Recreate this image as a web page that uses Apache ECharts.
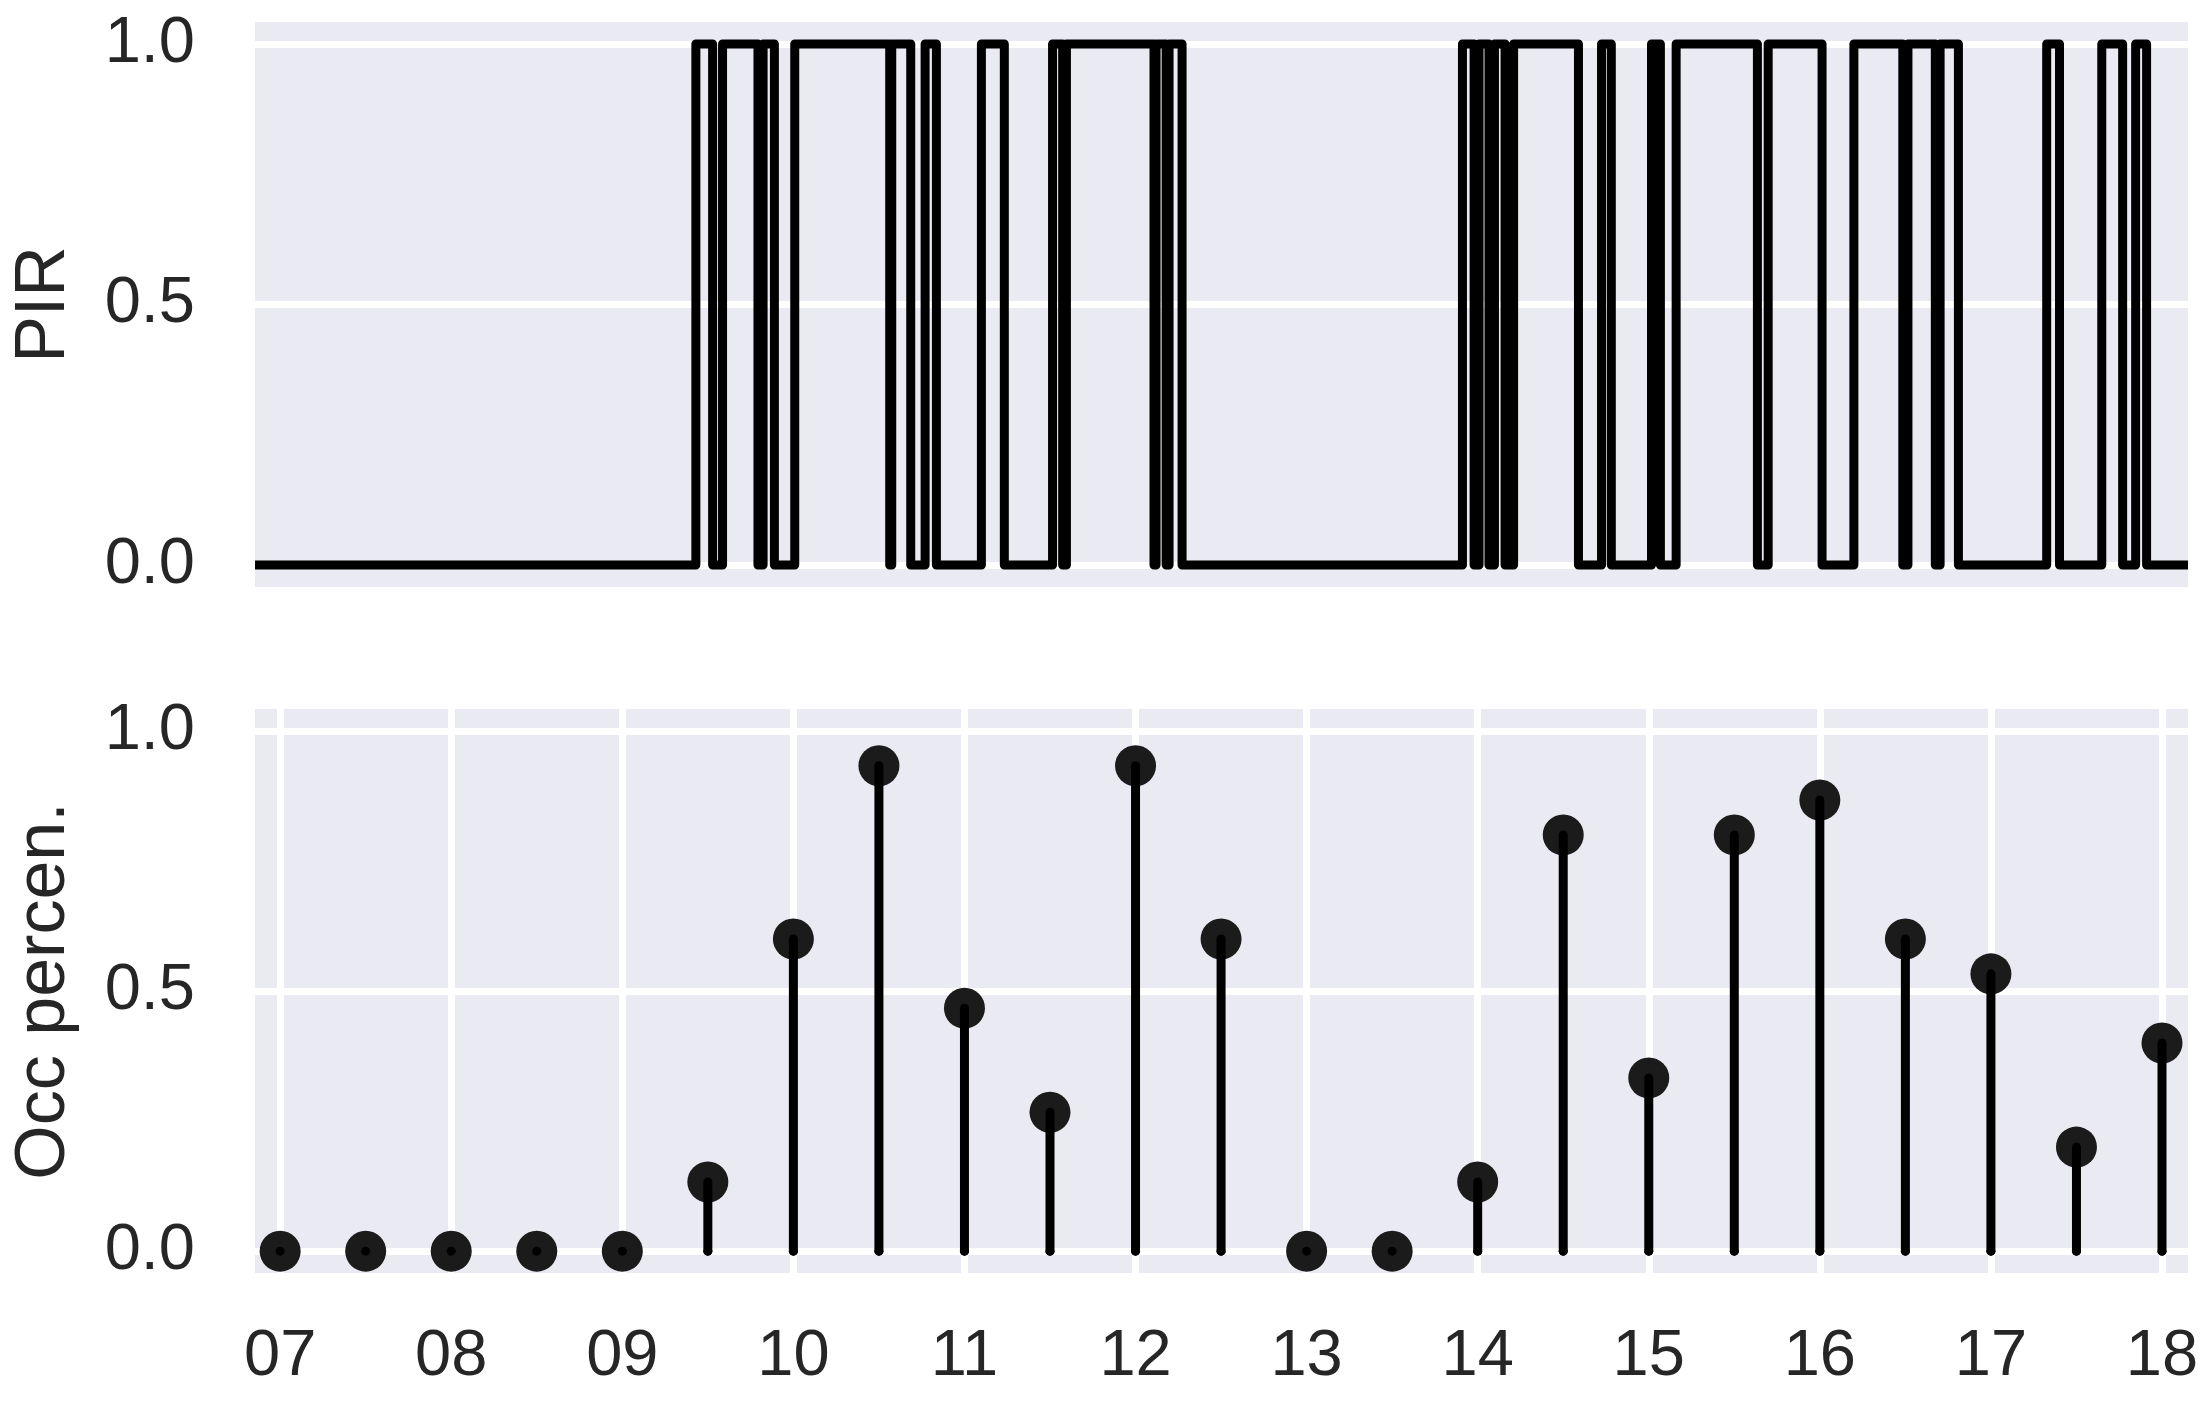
<!DOCTYPE html>
<html><head><meta charset="utf-8">
<script src="https://cdn.jsdelivr.net/npm/echarts@6/dist/echarts.min.js"></script>
<style>html,body{margin:0;padding:0;background:#fff}#c{width:2205px;height:1402px}</style>
</head><body><div id="c"></div>
<script>
// x extent in hours of day
const xMin = 6.853, xMax = 18.152;

// PIR step signal: time (hours) at which the value changes, and the new value
const pirTimes = [6.853, 9.430, 9.528, 9.586, 9.793, 9.823, 9.889, 10.008, 10.563, 10.575,
  10.686, 10.770, 10.836, 11.099, 11.233, 11.515, 11.574, 11.596, 12.108, 12.120,
  12.179, 12.196, 12.272, 13.911, 13.979, 14.008, 14.066, 14.098, 14.160, 14.210,
  14.589, 14.724, 14.781, 15.016, 15.068, 15.160, 15.635, 15.698, 16.013, 16.199,
  16.485, 16.515, 16.675, 16.703, 16.810, 17.326, 17.401, 17.648, 17.770, 17.846,
  17.910, 18.152];
const pirValues = [0, 1, 0, 1, 0, 1, 0, 1, 0, 1,
  0, 1, 0, 1, 0, 1, 0, 1, 0, 1,
  0, 1, 0, 1, 0, 1, 0, 1, 0, 1,
  0, 1, 0, 1, 0, 1, 0, 1, 0, 1,
  0, 1, 0, 1, 0, 1, 0, 1, 0, 1,
  0, 0];

// Occupancy percentage, half-hourly
const occTimes = [7, 7.5, 8, 8.5, 9, 9.5, 10, 10.5, 11, 11.5, 12, 12.5,
  13, 13.5, 14, 14.5, 15, 15.5, 16, 16.5, 17, 17.5, 18];
const occValues = [0, 0, 0, 0, 0, 0.133, 0.6, 0.933, 0.467, 0.267, 0.933, 0.6,
  0, 0, 0.133, 0.8, 0.333, 0.8, 0.867, 0.6, 0.533, 0.2, 0.4];

const xTickHours = [7, 8, 9, 10, 11, 12, 13, 14, 15, 16, 17, 18];
const xTickLabels = ['07', '08', '09', '10', '11', '12', '13', '14', '15', '16', '17', '18'];
const yTickValues = [0, 0.5, 1];
const yTickLabels = ['0.0', '0.5', '1.0'];

const yMin = -0.042, yMax = 1.042;
const FONT = "'Liberation Sans', Arial, 'DejaVu Sans', sans-serif";
const TXT = '#262626';
const BG = '#EAEAF2';

function xFmt(v) {
  for (let i = 0; i < xTickHours.length; i++) if (Math.abs(v - xTickHours[i]) < 1e-6) return xTickLabels[i];
  return '';
}
function yFmt(v) {
  for (let i = 0; i < yTickValues.length; i++) if (Math.abs(v - yTickValues[i]) < 1e-6) return yTickLabels[i];
  return '';
}

const chart = echarts.init(document.getElementById('c'), null, {renderer: 'canvas'});

const yAxisBase = (gi, name) => ({
  type: 'value', gridIndex: gi, min: yMin, max: yMax, splitNumber: 2,
  name: name, nameLocation: 'middle', nameGap: 175, nameRotate: 90,
  nameTextStyle: {fontFamily: FONT, fontSize: 70, color: TXT},
  axisLine: {show: false}, axisTick: {show: false},
  axisLabel: {fontFamily: FONT, fontSize: 65, color: TXT, margin: 60, formatter: yFmt,
    showMinLabel: false, showMaxLabel: false},
  splitLine: {show: true, showMinLine: false, showMaxLine: false,
    lineStyle: {color: '#ffffff', width: 7}}
});

const option = {
  animation: false,
  backgroundColor: '#ffffff',
  grid: [
    {left: 255, top: 22, width: 1933, height: 565, show: true, backgroundColor: BG, borderWidth: 0},
    {left: 255, top: 709, width: 1933, height: 564, show: true, backgroundColor: BG, borderWidth: 0}
  ],
  xAxis: [
    {type: 'value', gridIndex: 0, min: xMin, max: xMax, splitNumber: 11,
      axisLine: {show: false}, axisTick: {show: false}, axisLabel: {show: false},
      splitLine: {show: false}},
    {type: 'value', gridIndex: 1, min: xMin, max: xMax, splitNumber: 11,
      axisLine: {show: false}, axisTick: {show: false},
      axisLabel: {fontFamily: FONT, fontSize: 65, color: TXT, margin: 52, formatter: xFmt,
        showMinLabel: false, showMaxLabel: false},
      splitLine: {show: true, showMinLine: false, showMaxLine: false,
        lineStyle: {color: '#ffffff', width: 7}}}
  ],
  yAxis: [yAxisBase(0, 'PIR'), yAxisBase(1, 'Occ percen.')],
  series: [
    {
      type: 'line', xAxisIndex: 0, yAxisIndex: 0, step: 'end',
      showSymbol: false, symbol: 'none',
      data: pirTimes.map((t, i) => [t, pirValues[i]]),
      lineStyle: {color: '#000000', width: 9, join: 'round', cap: 'butt'},
      z: 5
    },
    {
      type: 'scatter', xAxisIndex: 1, yAxisIndex: 1,
      data: occTimes.map((t, i) => [t, occValues[i]]),
      symbol: 'circle', symbolSize: 41,
      itemStyle: {color: '#1b1b1b', opacity: 1},
      z: 4
    },
    {
      type: 'custom', xAxisIndex: 1, yAxisIndex: 1,
      data: occTimes.map((t, i) => [t, occValues[i]]),
      encode: {x: 0, y: 1},
      clip: false,
      renderItem: function (params, api) {
        const t = api.value(0), v = api.value(1);
        const p0 = api.coord([t, 0]);
        const p1 = api.coord([t, v]);
        return {
          type: 'group',
          children: [
            {type: 'line', shape: {x1: p0[0], y1: p0[1], x2: p1[0], y2: p1[1]},
              style: {stroke: '#000000', lineWidth: 9, lineCap: 'round'}},
            {type: 'circle', shape: {cx: p0[0], cy: p0[1], r: 4.5},
              style: {fill: '#000000'}}
          ]
        };
      },
      z: 6
    }
  ]
};
chart.setOption(option);
</script>
</body></html>
